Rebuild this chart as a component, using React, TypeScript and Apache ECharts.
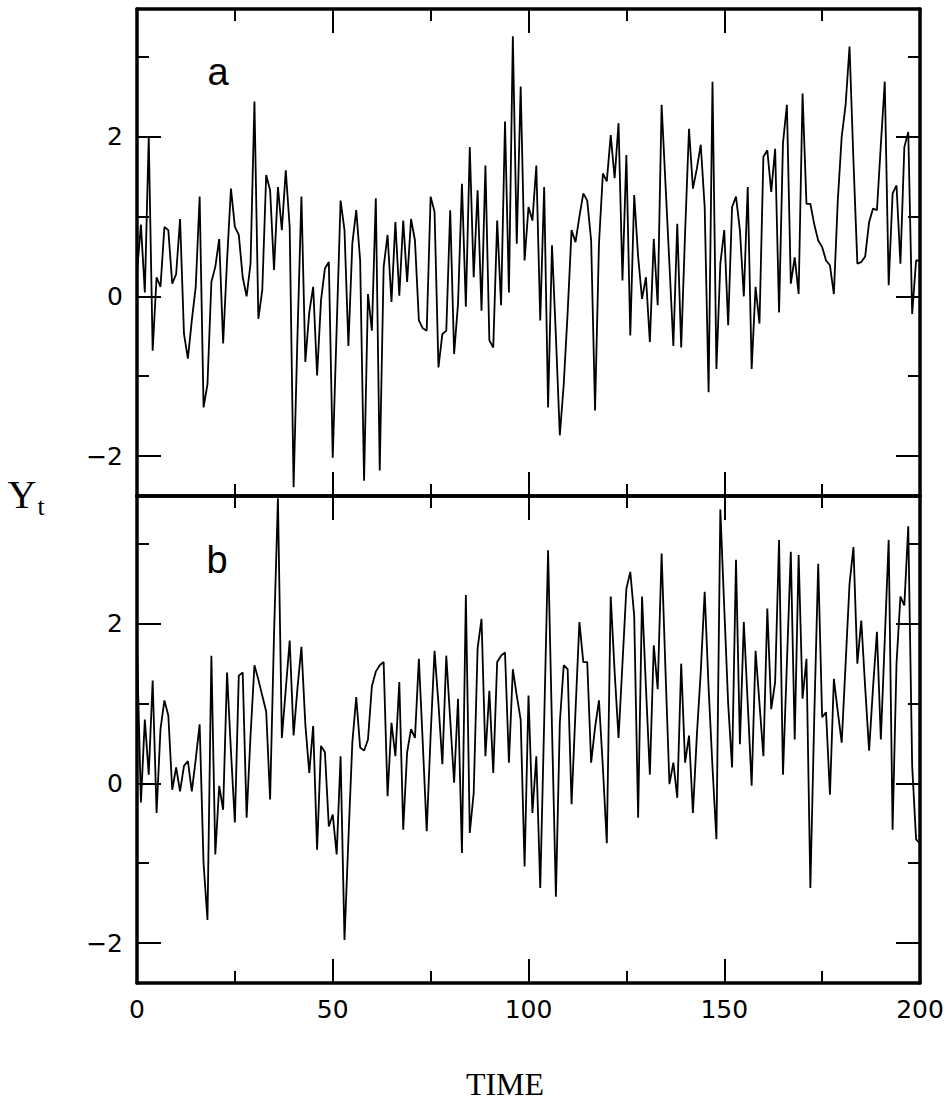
import React, { useEffect, useRef } from 'react';
import * as echarts from 'echarts';

// ---- axis ranges and tick values ----
const timeMin = 0;
const timeMax = 200;
const yMin = -2.5;
const yMax = 3.6;
const xMajorTicks = [0, 50, 100, 150, 200];
const xMinorTicks = [25, 75, 125, 175];
const yMajorTicks = [-2, 0, 2];
const yMinorTicks = [-1, 1, 3];
const panelLabels = ['a', 'b'];
const xTitle = 'TIME';
const yTitleMain = 'Y';
const yTitleSub = 't';

// ---- series a: Y_t, t = 0..200 ----
const seriesA = [
  0.3, 0.9, 0.05, 2.0, -0.68, 0.24, 0.12, 0.87, 0.83, 0.16,
  0.28, 0.97, -0.47, -0.78, -0.3, 0.12, 1.25, -1.39, -1.1, 0.18,
  0.37, 0.72, -0.59, 0.45, 1.35, 0.87, 0.77, 0.24, 0.0, 0.41,
  2.44, -0.28, 0.08, 1.52, 1.33, 0.33, 1.37, 0.83, 1.58, 0.87,
  -2.39, -0.47, 1.25, -0.82, -0.2, 0.12, -0.99, -0.05, 0.35, 0.43,
  -2.02, -0.4, 1.2, 0.83, -0.62, 0.66, 1.08, 0.45, -2.31, 0.03,
  -0.43, 1.23, -2.18, 0.37, 0.77, -0.07, 0.93, 0.01, 0.95, 0.18,
  0.97, 0.7, -0.3, -0.4, -0.43, 1.25, 1.06, -0.89, -0.47, -0.43,
  1.08, -0.72, -0.09, 1.41, -0.13, 1.87, 0.24, 1.33, -0.18, 1.64,
  -0.55, -0.64, 0.95, -0.11, 2.19, 0.05, 3.26, 0.66, 2.63, 0.45,
  1.12, 0.95, 1.64, -0.3, 1.37, -1.39, 0.64, -0.5, -1.74, -1.1,
  -0.2, 0.83, 0.68, 1.0, 1.29, 1.2, 0.7, -1.43, 0.66, 1.54,
  1.44, 2.02, 1.48, 2.17, 0.2, 1.77, -0.49, 1.27, 0.5, -0.03,
  0.24, -0.57, 0.72, -0.11, 2.4, 1.4, 0.4, -0.62, 0.91, -0.64,
  0.8, 2.1, 1.35, 1.6, 1.9, 1.12, -1.2, 2.69, -0.91, 0.41,
  0.83, -0.36, 1.12, 1.25, 0.83, 0.0, 1.37, -0.91, 0.12, -0.34,
  1.75, 1.83, 1.31, 1.85, -0.2, 1.92, 2.4, 0.16, 0.49, 0.03,
  2.54, 1.16, 1.16, 0.9, 0.7, 0.62, 0.45, 0.39, 0.03, 1.2,
  2.0, 2.4, 3.13, 1.7, 0.41, 0.43, 0.5, 0.93, 1.1, 1.08,
  1.9, 2.69, 0.14, 1.29, 1.39, 0.41, 1.87, 2.06, -0.22, 0.45,
  0.45,
];

// ---- series b: Y_t, t = 0..200 ----
const seriesB = [
  1.71, -0.24, 0.8, 0.11, 1.29, -0.37, 0.68, 1.04, 0.85, -0.08,
  0.2, -0.1, 0.22, 0.28, -0.1, 0.3, 0.74, -1.0, -1.71, 1.6,
  -0.89, -0.03, -0.33, 1.39, 0.4, -0.49, 1.35, 1.39, -0.43, 0.6,
  1.48, 1.3, 1.1, 0.9, -0.2, 1.87, 3.57, 0.57, 1.18, 1.79,
  0.6, 1.2, 1.71, 0.74, 0.13, 0.72, -0.83, 0.47, 0.39, -0.54,
  -0.39, -0.89, 0.34, -1.96, -0.7, 0.51, 1.08, 0.45, 0.41, 0.55,
  1.22, 1.4, 1.48, 1.52, -0.16, 0.76, 0.34, 1.27, -0.58, 0.39,
  0.68, 0.57, 1.56, 0.5, -0.6, 0.6, 1.66, 1.0, 0.24, 1.6,
  0.8, 0.01, 1.06, -0.87, 2.36, -0.62, -0.12, 1.69, 2.06, 0.34,
  1.16, 0.13, 1.52, 1.6, 1.64, 0.26, 1.43, 1.1, 0.8, -1.04,
  1.1, -0.37, 0.34, -1.31, 0.76, 2.92, 0.7, -1.42, 0.76, 1.48,
  1.43, -0.26, 0.9, 2.02, 1.52, 1.52, 0.26, 0.7, 1.04, 0.2,
  -0.75, 2.34, 1.4, 0.57, 1.5, 2.44, 2.65, 2.1, -0.43, 2.34,
  1.2, 0.11, 1.73, 1.18, 2.88, 1.4, -0.01, 0.26, -0.18, 1.5,
  0.26, 0.6, -0.37, 0.6, 1.4, 2.4, 1.2, 0.2, -0.7, 3.43,
  2.2, 1.0, 0.2, 2.8, 0.49, 2.02, 1.0, -0.03, 1.66, 1.0,
  0.34, 2.19, 0.93, 1.27, 3.05, 0.11, 1.5, 2.9, 0.55, 2.86,
  1.06, 1.56, -1.31, 0.85, 2.75, 0.83, 0.89, -0.14, 1.31, 0.9,
  0.51, 1.5, 2.5, 2.96, 1.5, 2.04, 1.2, 0.41, 1.2, 1.9,
  0.55, 1.8, 3.05, -0.58, 1.5, 2.34, 2.23, 3.22, 0.22, -0.7,
  -0.75,
];

const tickFont = 'DejaVu Sans';

function makeXAxis(gridIndex: number, position: 'top' | 'bottom', ticks: number[], len: number, showLine: boolean, labels: boolean) {
  return {
    type: 'value',
    gridIndex,
    position,
    min: timeMin,
    max: timeMax,
    axisLine: { show: showLine, onZero: false, lineStyle: { color: '#000', width: 3.5 } },
    axisTick: { show: true, inside: true, length: len, customValues: ticks, lineStyle: { color: '#000', width: 2 } },
    axisLabel: labels
      ? { show: true, customValues: ticks, margin: 14, color: '#000', fontSize: 25, fontFamily: tickFont }
      : { show: false },
    splitLine: { show: false },
  };
}

function makeYAxis(gridIndex: number, position: 'left' | 'right', ticks: number[], len: number, showLine: boolean, labels: boolean) {
  return {
    type: 'value',
    gridIndex,
    position,
    min: yMin,
    max: yMax,
    axisLine: { show: showLine, onZero: false, lineStyle: { color: '#000', width: 3.5 } },
    axisTick: { show: true, inside: true, length: len, customValues: ticks, lineStyle: { color: '#000', width: 2 } },
    axisLabel: labels
      ? {
          show: true,
          customValues: ticks,
          margin: 14,
          color: '#000',
          fontSize: 25,
          fontFamily: tickFont,
          formatter: (v: number) => (v < 0 ? '\u2212' + Math.abs(v) : String(v)),
        }
      : { show: false },
    splitLine: { show: false },
  };
}

export default function App() {
  const ref = useRef<HTMLDivElement>(null);

  useEffect(() => {
    if (!ref.current) return;
    const chart = echarts.init(ref.current, null, { renderer: 'svg' });

    const majorLen = 24;
    const minorLen = 12;
    const xAxes: any[] = [];
    const yAxes: any[] = [];
    [0, 1].forEach((g) => {
      xAxes.push(makeXAxis(g, 'bottom', xMajorTicks, majorLen, true, g === 1));
      xAxes.push(makeXAxis(g, 'bottom', xMinorTicks, minorLen, false, false));
      xAxes.push(makeXAxis(g, 'top', xMajorTicks, majorLen, true, false));
      xAxes.push(makeXAxis(g, 'top', xMinorTicks, minorLen, false, false));
      yAxes.push(makeYAxis(g, 'left', yMajorTicks, majorLen, true, true));
      yAxes.push(makeYAxis(g, 'left', yMinorTicks, minorLen, false, false));
      yAxes.push(makeYAxis(g, 'right', yMajorTicks, majorLen, true, false));
      yAxes.push(makeYAxis(g, 'right', yMinorTicks, minorLen, false, false));
    });

    const option: any = {
      animation: false,
      backgroundColor: '#ffffff',
      grid: [
        { left: 137, top: 9, width: 783, height: 487 },
        { left: 137, top: 496, width: 783, height: 487 },
      ],
      xAxis: xAxes,
      yAxis: yAxes,
      series: [
        {
          type: 'line',
          xAxisIndex: 0,
          yAxisIndex: 0,
          showSymbol: false,
          data: seriesA.map((v, i) => [i, v]),
          lineStyle: { color: '#000', width: 1.8 },
        },
        {
          type: 'line',
          xAxisIndex: 4,
          yAxisIndex: 4,
          showSymbol: false,
          data: seriesB.map((v, i) => [i, v]),
          lineStyle: { color: '#000', width: 1.8 },
        },
      ],
      graphic: [
        {
          type: 'text',
          x: 218,
          y: 72,
          style: { text: panelLabels[0], fontSize: 38, fontFamily: 'Liberation Sans', fill: '#000', align: 'center', verticalAlign: 'middle' },
        },
        {
          type: 'text',
          x: 217,
          y: 560,
          style: { text: panelLabels[1], fontSize: 38, fontFamily: 'Liberation Sans', fill: '#000', align: 'center', verticalAlign: 'middle' },
        },
        {
          type: 'text',
          x: 505,
          y: 1084,
          style: { text: xTitle, fontSize: 32, fontFamily: 'Liberation Serif', fill: '#000', align: 'center', verticalAlign: 'middle' },
        },
        {
          type: 'text',
          x: 22,
          y: 494,
          style: { text: yTitleMain, fontSize: 40, fontFamily: 'Liberation Serif', fill: '#000', align: 'center', verticalAlign: 'middle' },
        },
        {
          type: 'text',
          x: 41,
          y: 506,
          style: { text: yTitleSub, fontSize: 26, fontFamily: 'Liberation Serif', fill: '#000', align: 'center', verticalAlign: 'middle' },
        },
      ],
    };

    chart.setOption(option);
    return () => chart.dispose();
  }, []);

  return (
    <div
      ref={ref}
      style={{ position: 'absolute', left: 0, top: 0, width: 947, height: 1112, background: '#fff' }}
    />
  );
}
